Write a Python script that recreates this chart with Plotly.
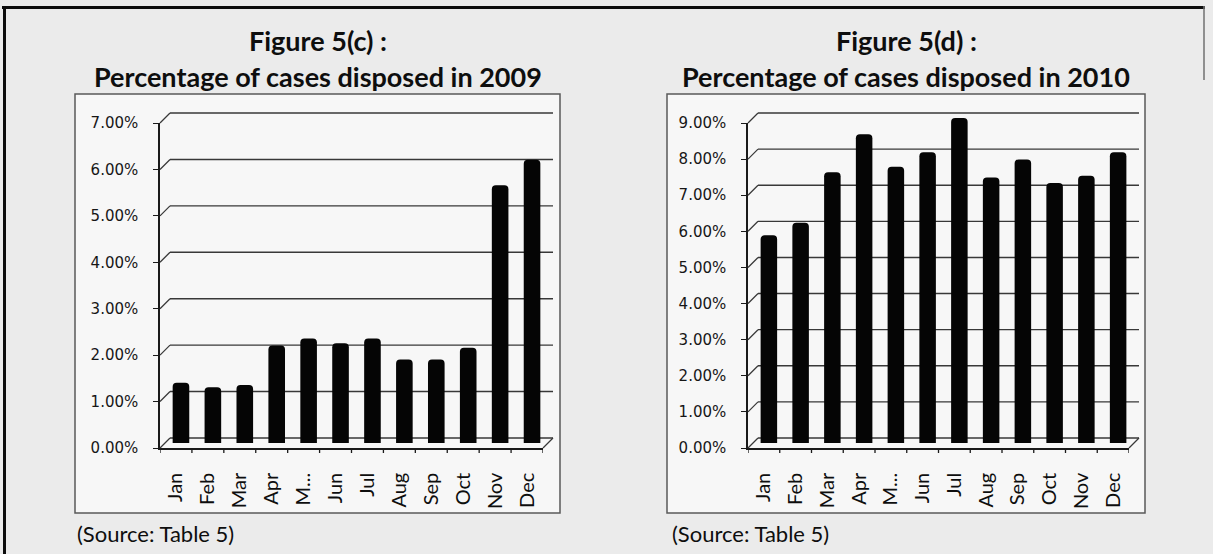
import plotly.graph_objects as go

# ---- data -------------------------------------------------------------
MONTHS = ["Jan", "Feb", "Mar", "Apr", "May", "Jun",
          "Jul", "Aug", "Sep", "Oct", "Nov", "Dec"]
TICK_LABELS = ["Jan", "Feb", "Mar", "Apr", "M...", "Jun",
               "Jul", "Aug", "Sep", "Oct", "Nov", "Dec"]
DISPOSED_2009 = [1.30, 1.20, 1.25, 2.10, 2.25, 2.15,
                 2.25, 1.80, 1.80, 2.05, 5.55, 6.10]
DISPOSED_2010 = [5.75, 6.10, 7.50, 8.55, 7.65, 8.05,
                 9.00, 7.35, 7.85, 7.20, 7.40, 8.05]
YMAX_2009 = 7
YMAX_2010 = 9
TITLES = [("Figure 5(c) :", "Percentage of cases disposed in 2009"),
          ("Figure 5(d) :", "Percentage of cases disposed in 2010")]
SOURCE = "(Source: Table 5)"

# ---- page geometry (pixels) -------------------------------------------
W, H = 1213, 554
DEPTH = 10            # pseudo-3D depth of the column chart, px


def fx(p):
    return p / W


def fy(p):
    return 1 - p / H


PANELS = [
    dict(values=DISPOSED_2009, ymax=YMAX_2009,
         box=(75, 94, 560, 513), front=(160, 543), zero=448, top=123,
         title_x=318, src_x=75, titles=TITLES[0]),
    dict(values=DISPOSED_2010, ymax=YMAX_2010,
         box=(667, 94, 1145, 513), front=(748, 1129), zero=448, top=123,
         title_x=906, src_x=670, titles=TITLES[1]),
]

INK = "#0e0e0e"
GRID = "#383838"

fig = go.Figure()
layout = dict(
    width=W, height=H, autosize=False,
    margin=dict(l=0, r=0, t=0, b=0, pad=0, autoexpand=False),
    paper_bgcolor="#ebebeb", plot_bgcolor="rgba(0,0,0,0)",
    showlegend=False,
)
shapes = []
annotations = []

# page frame
shapes.append(dict(type="line", xref="paper", yref="paper",
                   x0=fx(2), x1=fx(1205), y0=fy(7.5), y1=fy(7.5),
                   line=dict(color="#0c0c0c", width=3)))
shapes.append(dict(type="line", xref="paper", yref="paper",
                   x0=fx(4.5), x1=fx(4.5), y0=fy(6), y1=fy(554),
                   line=dict(color="#0c0c0c", width=3)))
shapes.append(dict(type="line", xref="paper", yref="paper",
                   x0=fx(1204), x1=fx(1204), y0=fy(6), y1=fy(80),
                   line=dict(color="#707070", width=1.5)))


def y_domain(p_zero, p_top, vmax, pad):
    k = (p_zero - p_top) / vmax
    return [fy(p_zero + pad * k), fy(p_top - pad * k)], [-pad, vmax + pad]


axis_id = 0
for panel in PANELS:
    vals = panel["values"]
    vmax = panel["ymax"]
    n = len(vals)
    xf0, xf1 = panel["front"]
    zero, top = panel["zero"], panel["top"]
    k = (zero - top) / vmax
    bx0, by0, bx1, by1 = panel["box"]

    # chart area box
    shapes.append(dict(type="rect", xref="paper", yref="paper", layer="below",
                       x0=fx(bx0), x1=fx(bx1), y0=fy(by1), y1=fy(by0),
                       fillcolor="#f7f7f7",
                       line=dict(color="#5a5a5a", width=1.5)))

    # three planes: back wall (grid), middle (columns), front (axes)
    planes = []
    for shift in (DEPTH, DEPTH / 2, 0):
        axis_id += 1
        planes.append((axis_id, shift))

    positions = list(range(n))
    for ax_i, shift in planes:
        xname = "xaxis" if ax_i == 1 else f"xaxis{ax_i}"
        yname = "yaxis" if ax_i == 1 else f"yaxis{ax_i}"
        xref = "x" if ax_i == 1 else f"x{ax_i}"
        yref = "y" if ax_i == 1 else f"y{ax_i}"
        xdom = [fx(xf0 + shift), fx(xf1 + shift)]
        if shift == DEPTH:
            ydom, yrng = y_domain(zero - shift, top - shift, vmax, 0.1)
            layout[xname] = dict(domain=xdom, range=[-0.5, n - 0.5],
                                 anchor=yref, visible=False, automargin=False)
            layout[yname] = dict(domain=ydom, range=yrng, anchor=xref,
                                 visible=False, automargin=False)
            # back wall gridlines on this plane's value scale
            for v in range(vmax + 1):
                shapes.append(dict(type="line", xref=xref, yref=yref,
                                   x0=-0.5, x1=n - 0.5, y0=v, y1=v,
                                   layer="below",
                                   line=dict(color=GRID, width=1.4)))
        elif shift == DEPTH / 2:
            ydom, yrng = y_domain(zero - shift, top - shift, vmax, 0.3)
            layout[xname] = dict(domain=xdom, range=[-0.5, n - 0.5],
                                 anchor=yref, visible=False, automargin=False)
            layout[yname] = dict(domain=ydom, range=yrng, anchor=xref,
                                 visible=False, automargin=False)
            fig.add_trace(go.Bar(
                x=positions, y=vals, xaxis=xref, yaxis=yref,
                width=0.52, marker=dict(color="#050505", cornerradius=4,
                                        line=dict(width=0)),
                customdata=MONTHS,
                hovertemplate="%{customdata}: %{y:.2f}%<extra></extra>",
            ))
        else:
            layout[xname] = dict(
                domain=xdom, range=[-0.5, n - 0.5], anchor=yref,
                automargin=False,
                showline=True, linecolor="#1a1a1a", linewidth=1.5,
                showgrid=False, zeroline=False,
                tickmode="array", tickvals=positions, ticktext=TICK_LABELS,
                ticks="", tickangle=-90, ticklabelstandoff=15,
                tickfont=dict(family="Lato", size=20, color=INK),
            )
            layout[yname] = dict(
                domain=[fy(zero), fy(top)], range=[0, vmax], anchor=xref,
                automargin=False,
                showline=True, linecolor="#1a1a1a", linewidth=1.5,
                showgrid=False, zeroline=False, dtick=1, tick0=0,
                tickformat=".2f", ticksuffix="%",
                ticks="outside", ticklen=5, tickcolor="#1a1a1a", tickwidth=1.3,
                ticklabelstandoff=12,
                tickfont=dict(family="DejaVu Sans", size=15, color="#161616"),
            )
            # tick marks between categories on the front edge of the floor
            for i in range(n + 1):
                shapes.append(dict(type="line", xref=xref, yref="paper",
                                   x0=i - 0.5, x1=i - 0.5,
                                   y0=fy(zero), y1=fy(zero + 5),
                                   line=dict(color="#1a1a1a", width=1.3)))

    # side wall lines joining front ticks to the back wall grid
    for v in range(vmax + 1):
        yp = zero - v * k
        shapes.append(dict(type="line", xref="paper", yref="paper",
                           x0=fx(xf0), x1=fx(xf0 + DEPTH),
                           y0=fy(yp), y1=fy(yp - DEPTH),
                           line=dict(color=GRID, width=1.3)))
    # right edge of the floor
    shapes.append(dict(type="line", xref="paper", yref="paper",
                       x0=fx(xf1), x1=fx(xf1 + DEPTH),
                       y0=fy(zero), y1=fy(zero - DEPTH),
                       line=dict(color=GRID, width=1.3)))

    # titles and source line
    l1, l2 = panel["titles"]
    for text, ypix in ((l1, 40), (l2, 77)):
        annotations.append(dict(
            text=f"<b>{text}</b>", xref="paper", yref="paper",
            x=fx(panel["title_x"]), y=fy(ypix), xanchor="center",
            yanchor="middle", showarrow=False,
            font=dict(family="Lato", size=27, color=INK)))
    annotations.append(dict(
        text=SOURCE, xref="paper", yref="paper",
        x=fx(panel["src_x"]), y=fy(533), xanchor="left", yanchor="middle",
        showarrow=False, font=dict(family="Lato", size=22, color=INK)))

layout["shapes"] = shapes
layout["annotations"] = annotations
fig.update_layout(**layout)
fig.write_html("out.html")
